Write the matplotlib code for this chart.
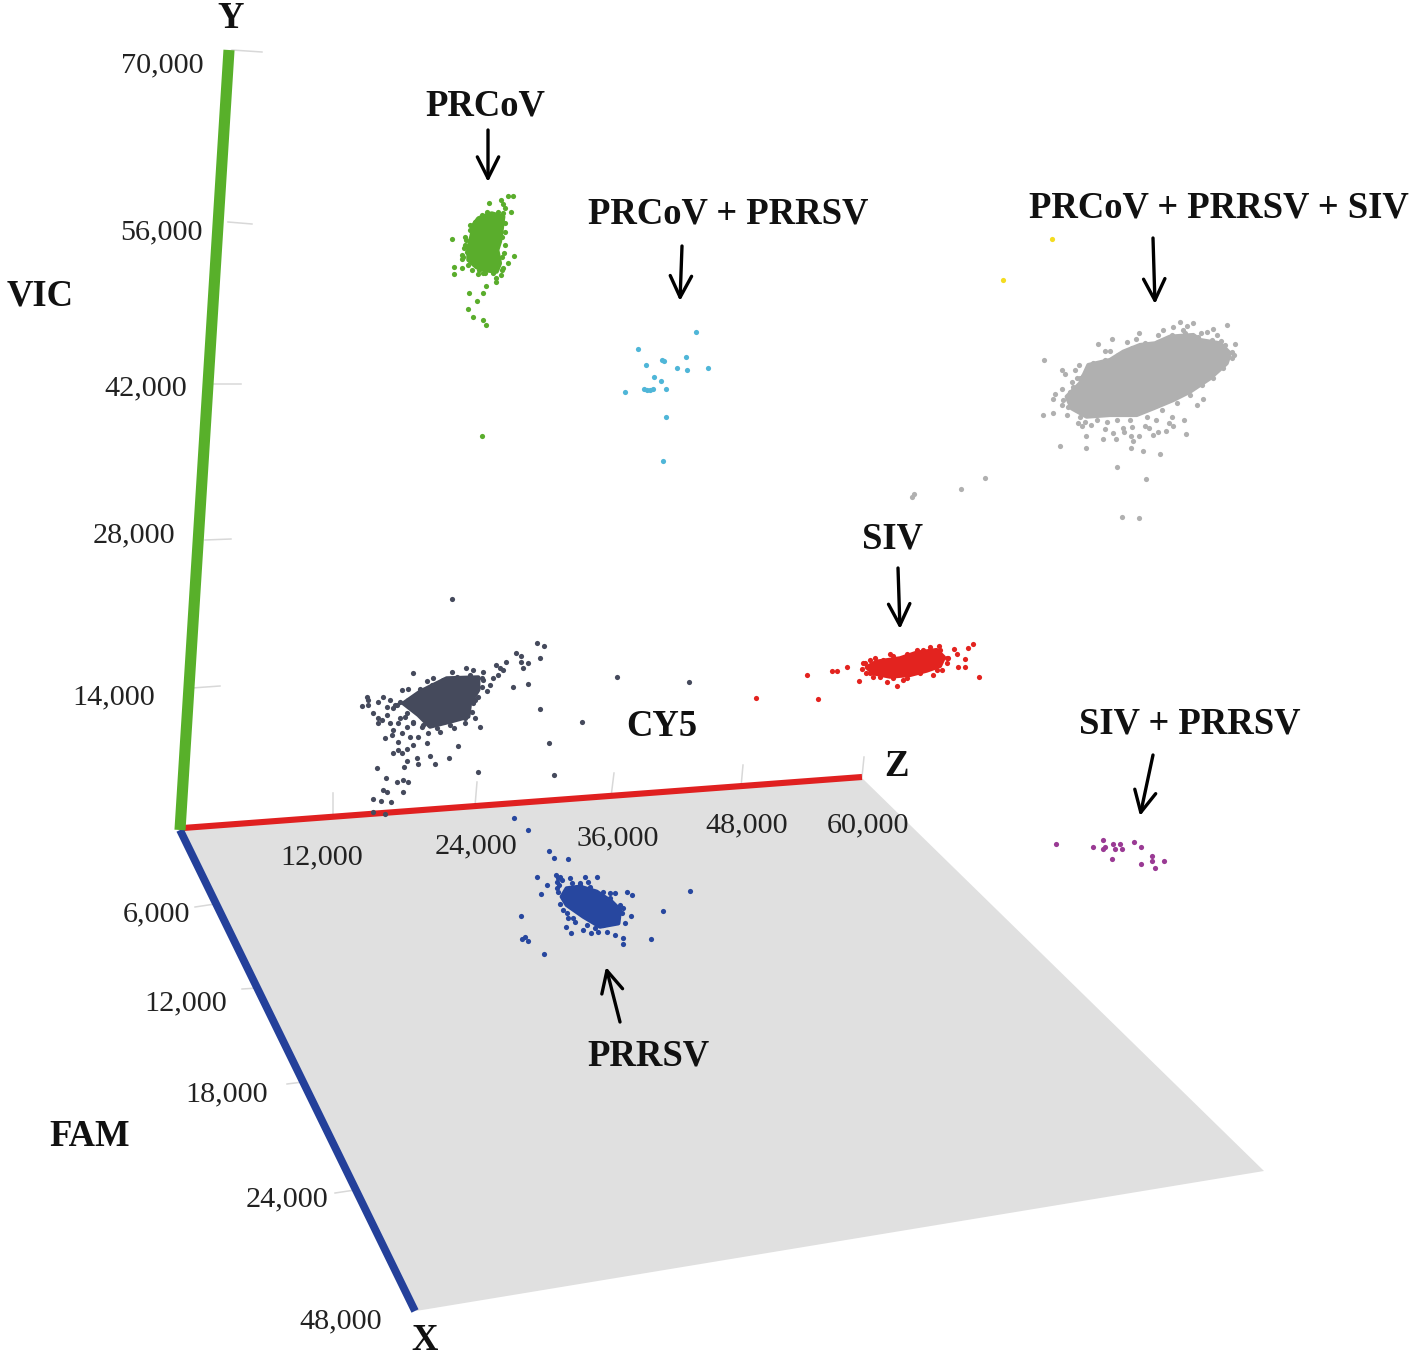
import numpy as np
import matplotlib
matplotlib.use("Agg")
import matplotlib.pyplot as plt

plt.rcParams['font.family'] = ['Liberation Serif', 'DejaVu Serif']

# droplet positions, as (x, y) in 3x crops of the image
green_pts = [(265,47),(278,47),(243,60),(248,72),(207,68),(255,85),(272,95),(248,100),(202,95),(150,135),(256,155),(97,177),(137,180),(132,205),(125,225),(125,238),(283,228),(263,250),(252,218),(103,260),(125,265),(103,282),(155,270),(175,282),(248,265),(242,285),(228,295),(228,305),(198,317),(147,338),(190,338),(170,364),(145,388),(160,410),(190,420),(197,436),(186,768),(160,160),(140,215),(155,230),(165,250),(195,280),(220,280),(240,130),(180,125),(135,195),(128,232),(145,255),(178,270),(222,272),
             (135,170),(150,150),(165,125),(185,105),(235,95),(255,130),(245,170),(255,195),(245,230),(245,270),(190,280)]
green_core = [(175,115),(215,100),(250,110),(245,150),(240,185),(232,210),(240,250),(230,275),(205,272),(170,262),(145,240),(145,205),(155,165),(160,135)]

cyan_pts = [(828,457),(655,508),(797,530),(725,540),(733,544),(677,554),(770,565),(801,571),(863,565),(703,591),(724,602),(739,627),(614,637),(672,627),(682,631),(690,631),(698,626),(739,710),(728,844)]

grey_pts = [(43,180),(95,210),(105,222),(135,210),(147,195),(205,132),(245,117),(225,152),(240,152),(292,127),(318,117),(328,100),(450,65),(430,80),(400,90),(385,105),(490,70),(472,78),(460,90),(590,75),(548,88),(530,95),(512,100),(560,105),(572,122),(615,132),(605,155),(612,165),(125,245),(140,235),(160,228),(95,268),(75,283),(68,298),(95,315),(38,345),(68,340),(110,345),(145,368),(155,378),(182,375),(165,365),(230,367),(225,388),(278,385),(282,395),(305,380),(345,378),(358,385),(378,360),(425,350),(418,370),(430,378),(462,360),(408,392),(385,397),(368,405),(502,315),(518,298),(468,402),(168,408),(220,418),(250,400),(258,418),(302,407),(308,423),(328,407),(90,438),(168,443),(302,443),(338,453),(390,463),(260,500),(348,537),(276,650),(328,655),(-348,582),(-354,591),(-207,567),(-135,534),
            (120,275),(130,262),(150,235),(175,210),(190,190),(225,180),(265,165),(305,145),(345,130),(385,125),(425,105),(465,100),(505,110),(545,120),(585,135),(605,175),(580,205),(550,235),(515,255),(480,285),(440,310),(395,330),(350,350),(300,360),(260,360),(200,360),(150,350),(115,320),(100,300)]
grey_core = [(110,290),(150,250),(175,195),(240,180),(280,155),(330,135),(375,130),(420,110),(490,105),(510,120),(570,130),(600,160),(590,190),(540,235),(480,275),(430,300),(370,325),(320,345),(240,345),(170,350),(125,325)]

dark_pts = [(307,28),(560,160),(582,168),(570,203),(498,188),(513,198),(513,215),(535,220),(520,235),(467,215),(437,225),(188,250),(307,245),(348,235),(370,240),(400,245),(232,272),(250,265),(488,292),(535,282),(800,262),(1017,276),(460,240),(445,255),(420,285),(410,302),(100,322),(50,320),(55,330),(35,348),(55,345),(85,335),(120,330),(70,368),(85,385),(110,350),(130,355),(175,297),(155,300),(390,410),(313,415),(345,400),(270,425),(570,358),(695,395),(597,458),(323,467),(105,445),(130,420),(125,435),(155,430),(180,440),(205,440),(230,460),(190,465),(145,455),(128,488),(145,480),(155,490),(170,478),(200,503),(240,498),(297,503),(172,513),(162,530),(205,523),(256,523),(80,535),(385,545),(613,555),(107,565),(140,575),(158,570),(175,576),(100,600),(110,605),(158,607),(70,628),(92,633),(122,637),(70,665),(105,672),(95,390),(85,400),(165,380),(170,410),(215,410),(235,430),(375,385),(370,340),(385,320),(110,375),(120,400),(145,400),(430,265),(400,270),(450,235),(135,345),(150,385),(190,400),
            (175,330),(150,335),(140,345),(170,370),(190,395),(220,405),(260,415),(300,405),(345,385),(365,365),(375,330),(395,290),(395,265),(360,255),(320,262),(280,270),(245,285),(210,298)]
dark_core = [(160,340),(210,305),(290,265),(385,262),(385,300),(360,340),(355,380),(300,395),(240,410),(205,375)]

red_pts = [(48,203),(235,208),(200,136),(275,124),(290,124),(322,110),(358,152),(370,100),(365,118),(405,85),(440,155),(472,167),(597,47),(700,41),(685,53),(643,58),(675,88),(653,110),(675,110),(717,142),(490,150),(580,135),(605,120),(450,72),(400,140),(378,130),(625,85),(650,72),(550,60),(570,52),
           (375,100),(390,90),(430,90),(460,78),(500,72),(530,60),(600,60),(620,85),(620,100),(590,120),(540,130),(500,145),(460,145),(420,140),(390,130)]
red_core = [(380,112),(410,95),(480,85),(530,68),(590,60),(612,82),(600,108),(560,122),(510,135),(450,140),(400,130)]

blue_pts = [(43,25),(85,60),(147,122),(163,143),(205,148),(112,200),(167,195),(180,200),(142,225),(170,215),(185,210),(210,205),(255,200),(291,200),(122,252),(170,235),(330,250),(345,250),(380,245),(396,256),(571,242),(488,303),(64,319),(392,319),(370,295),(375,340),(452,386),(370,385),(370,402),(75,380),(65,387),(85,392),(131,433),(199,350),(214,370),(250,360),(272,370),(295,365),(320,365),(345,375),(180,283),(200,310),(218,325),(240,225),(265,215),
            (175,205),(178,225),(175,245),(190,300),(205,325),(225,335),(260,345),(285,355),(310,345),(350,320),(365,310),(360,285),(330,265),(310,245),(270,230),(240,220),(215,220)]
blue_core = [(200,235),(240,230),(290,245),(335,275),(360,300),(355,340),(300,350),(250,320),(200,285),(185,260)]

purple_pts = [(49,71),(158,81),(188,60),(188,87),(196,81),(220,71),(241,71),(225,88),(246,88),(283,66),(303,82),(215,118),(335,107),(335,123),(303,133),(344,143),(371,123)]
yellow_pts = [(1052,239),(1003,280)]

# tick labels
y_ticks = ['70,000', '56,000', '42,000', '28,000', '14,000']
z_ticks = ['12,000', '24,000', '36,000', '48,000', '60,000']
x_ticks = ['6,000', '12,000', '18,000', '24,000', '48,000']


def crop(pts, x0, y0):
    # crop coordinates back to image pixels
    a = np.array(pts, dtype=float)
    return x0 + a[:, 0] / 3, y0 + a[:, 1] / 3


fig = plt.figure(figsize=(14.17, 13.57), dpi=100)
ax = fig.add_axes([0, 0, 1, 1])
ax.set_xlim(0, 1417)
ax.set_ylim(1357, 0)
ax.axis('off')

# floor
ax.fill([183, 862, 1264, 416], [828, 778, 1171, 1311], color='#e0e0e0', lw=0, zorder=1)

# tick marks
for xs, ys in [([232, 262], [50, 52]), ([228, 252], [222, 224]), ([214, 241], [384, 384]),
               ([205, 231], [540, 539]), ([192, 220], [688, 686]),
               ([333, 333], [815, 793]), ([475, 477], [806, 782]), ([611, 614], [797, 773]),
               ([741, 743], [787, 765]), ([862, 864], [777, 757]),
               ([195, 215], [907, 904]), ([242, 258], [989, 988]), ([287, 303], [1084, 1082]),
               ([335, 355], [1193, 1190])]:
    ax.plot(xs, ys, color='#d8d8d8', lw=1.1, zorder=2)

# the three axes
ax.plot([183, 862], [828, 777], color='#e02020', lw=4.4, solid_capstyle='butt', zorder=3)
ax.plot([180, 415], [830, 1311], color='#24409a', lw=5.6, solid_capstyle='butt', zorder=3)
ax.plot([180, 229], [830, 50], color='#58b02a', lw=8, solid_capstyle='butt', zorder=4)

# droplet clusters
clusters = [
    (green_pts, green_core, 420, 180, '#5aad2c'),
    (cyan_pts, None, 420, 180, '#4fb6d8'),
    (grey_pts, grey_core, 1030, 300, '#b0b0b0'),
    (dark_pts, dark_core, 350, 590, '#454a5c'),
    (red_pts, red_core, 740, 630, '#e3231f'),
    (blue_pts, blue_core, 500, 810, '#27479f'),
    (purple_pts, None, 1040, 820, '#9a3a94'),
]
for pts, core, x0, y0, col in clusters:
    px, py = crop(pts, x0, y0)
    ax.scatter(px, py, s=14, color=col, lw=0, zorder=5)
    if core is not None:
        cx, cy = crop(core, x0, y0)
        ax.fill(cx, cy, facecolor=col, edgecolor=col, lw=3, joinstyle='round', zorder=5)
yx, yy = zip(*yellow_pts)
ax.scatter(yx, yy, s=14, color='#f4dc20', lw=0, zorder=5)

# tick labels
for lab, x, y in zip(y_ticks, [162, 161, 146, 134, 114], [65, 232, 388, 535, 697]):
    ax.text(x, y, lab, fontsize=21.7, color='#222222', ha='center', va='center', zorder=6)
for lab, x, y in zip(z_ticks, [322, 476, 618, 747, 868], [857, 846, 838, 825, 825]):
    ax.text(x, y, lab, fontsize=21.7, color='#222222', ha='center', va='center', zorder=6)
for lab, x, y in zip(x_ticks, [157, 186, 227, 287, 341], [914, 1003, 1094, 1199, 1321]):
    ax.text(x, y, lab, fontsize=21.7, color='#222222', ha='center', va='center', zorder=6)

# bold labels
labels = [('Y', 231, 19), ('Z', 897, 766), ('X', 425, 1340), ('VIC', 40, 296), ('FAM', 90, 1136),
          ('CY5', 662, 726), ('PRCoV', 485, 106), ('PRCoV + PRRSV', 728, 214),
          ('PRCoV + PRRSV + SIV', 1219, 208), ('SIV', 893, 539), ('SIV + PRRSV', 1190, 724),
          ('PRRSV', 648, 1056)]
for lab, x, y in labels:
    ax.text(x, y, lab, fontsize=26.4, fontweight='bold', color='#111111', ha='center', va='center', zorder=6)

# arrows
arrows = [((488, 130), (488, 182)), ((682, 246), (680, 301)), ((1153, 238), (1155, 304)),
          ((898, 568), (900, 629)), ((1153, 755), (1140, 816)), ((620, 1022), (606, 967))]
for start, end in arrows:
    ax.annotate('', xy=end, xytext=start, zorder=6,
                arrowprops=dict(arrowstyle='->,head_length=0.7,head_width=0.35', color='black',
                                lw=2.4, mutation_scale=22, shrinkA=0, shrinkB=0))

fig.savefig('out.png', dpi=100)
